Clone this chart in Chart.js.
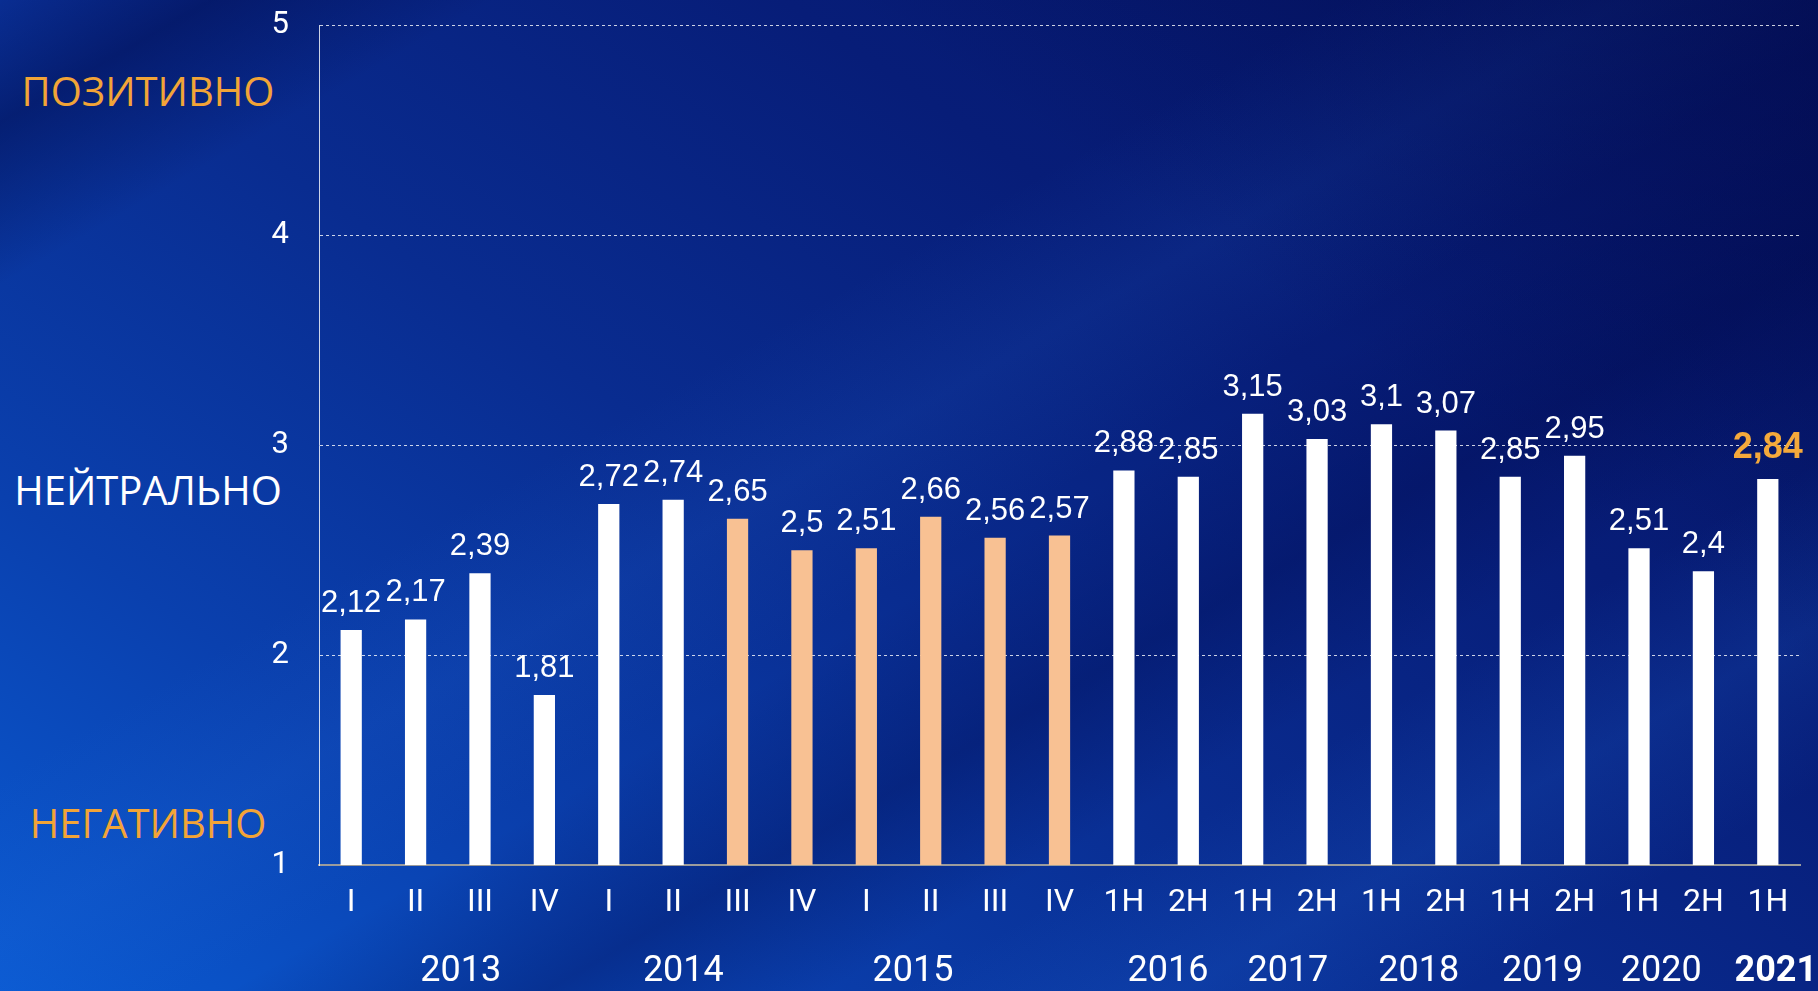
<!DOCTYPE html>
<html>
<head>
<meta charset="utf-8">
<script src="https://cdn.jsdelivr.net/npm/chart.js@4.4.1/dist/chart.umd.min.js"></script>
<style>
  html, body { margin: 0; padding: 0; }
  body {
    width: 1818px; height: 991px; overflow: hidden; position: relative;
    background:
      linear-gradient(215deg, rgba(2,8,70,0.55) 0%, rgba(2,8,70,0) 30%),
      linear-gradient(150deg, rgba(0,8,70,0) 0%, rgba(0,8,70,0.45) 6%, rgba(0,8,70,0) 14%, rgba(0,8,70,0) 100%),
      linear-gradient(150deg, rgba(0,0,0,0) 38%, rgba(40,110,220,0.12) 46%, rgba(0,0,0,0) 54%),
      linear-gradient(150deg, rgba(0,0,0,0) 55%, rgba(0,10,80,0.35) 64%, rgba(0,0,0,0) 72%),
      linear-gradient(150deg, rgba(0,0,0,0) 74%, rgba(30,100,210,0.2) 82%, rgba(0,0,0,0) 90%),
      linear-gradient(35deg, #0a5ad2 0%, #0a40ae 22%, #092c90 45%, #071d78 68%, #051466 100%);
  }
  #wrap { position: absolute; left: 0; top: -23px; width: 1818px; height: 1014px; }
  .side { position: absolute; width: 296px; text-align: center; font-family: "Open Sans", sans-serif; font-size: 40px; line-height: 1; }
</style>
</head>
<body>
<div class="side" style="top:71px; color:#f2a437;">ПОЗИТИВНО</div>
<div class="side" style="top:470px; color:#ffffff;">НЕЙТРАЛЬНО</div>
<div class="side" style="top:803px; color:#f2a437;">НЕГАТИВНО</div>
<div id="wrap"><canvas id="myChart" width="1818" height="1014"></canvas></div>
<script>
// period labels under each bar
const periods = ['I', 'II', 'III', 'IV', 'I', 'II', 'III', 'IV', 'I', 'II', 'III', 'IV',
                 '1H', '2H', '1H', '2H', '1H', '2H', '1H', '2H', '1H', '2H', '1H'];
// index values
const values = [2.12, 2.17, 2.39, 1.81, 2.72, 2.74, 2.65, 2.5, 2.51, 2.66, 2.56, 2.57,
                2.88, 2.85, 3.15, 3.03, 3.1, 3.07, 2.85, 2.95, 2.51, 2.4, 2.84];
// bars drawn in the second (peach) colour
const highlighted = [false, false, false, false, false, false, true, true, true, true, true, true,
                     false, false, false, false, false, false, false, false, false, false, false];
// years and the bar indexes they span
const years = ['2013', '2014', '2015', '2016', '2017', '2018', '2019', '2020', '2021'];
const yearFrom = [0, 4, 8, 12, 14, 16, 18, 20, 22];
const yearTo = [3, 7, 11, 13, 15, 17, 19, 21, 22];
const yTicks = [1, 2, 3, 4, 5];

const last = values.length - 1;
const fmt = v => String(v).replace('.', ',');

// value labels above the bars
const valueLabels = {
    id: 'valueLabels',
    afterDatasetsDraw(chart) {
        const ctx = chart.ctx;
        const meta = chart.getDatasetMeta(0);
        ctx.save();
        ctx.textAlign = 'center';
        ctx.textBaseline = 'alphabetic';
        meta.data.forEach((bar, i) => {
            if (i === last) {
                ctx.font = 'bold 36px "Liberation Sans"';
                ctx.fillStyle = '#f5a93b';
                ctx.fillText(fmt(values[i]), bar.x, bar.y - 21);
            } else {
                ctx.font = '31px "Liberation Sans"';
                ctx.fillStyle = '#ffffff';
                ctx.fillText(fmt(values[i]), bar.x, bar.y - 18);
            }
        });
        ctx.restore();
    }
};

// year captions under the period labels
const yearNudge = [13, -22, -50, 12, 3, 5, 0, -10, 8];
const yearLabels = {
    id: 'yearLabels',
    afterDraw(chart) {
        const ctx = chart.ctx;
        const x = chart.scales.x;
        ctx.save();
        ctx.textAlign = 'center';
        ctx.textBaseline = 'middle';
        ctx.fillStyle = '#ffffff';
        years.forEach((y, i) => {
            const cx = (x.getPixelForValue(yearFrom[i]) + x.getPixelForValue(yearTo[i])) / 2 + yearNudge[i];
            ctx.font = (i === years.length - 1 ? 'bold ' : '') + '36px Roboto';
            ctx.fillText(y, cx, x.top + 107);
        });
        ctx.restore();
    }
};

const ctx = document.getElementById('myChart');

new Chart(ctx, {
    type: 'bar',
    data: {
        labels: periods,
        datasets: [{
            data: values,
            backgroundColor: highlighted.map(h => h ? '#f8c193' : '#ffffff'),
            borderWidth: 0,
            barPercentage: 0.33,
            categoryPercentage: 1
        }]
    },
    options: {
        responsive: false,
        animation: false,
        events: [],
        layout: { padding: { top: 0, right: 18, bottom: 0, left: 0 } },
        plugins: {
            legend: { display: false },
            tooltip: { enabled: false }
        },
        scales: {
            x: {
                afterFit(scale) { scale.height = 126; },
                grid: { display: false, drawTicks: false },
                border: { display: true, color: '#9c9c9c', width: 2 },
                ticks: {
                    color: '#ffffff',
                    font: { family: 'Roboto', size: 32 },
                    padding: 19,
                    maxRotation: 0,
                    autoSkip: false
                }
            },
            y: {
                min: 1,
                max: 5,
                afterFit(scale) { scale.width = 319; },
                afterBuildTicks(scale) { scale.ticks = yTicks.map(v => ({ value: v })); },
                grid: {
                    drawTicks: false,
                    color: c => c.tick.value === 1 ? 'rgba(0,0,0,0)' : 'rgba(255,255,255,0.8)',
                    lineWidth: 1
                },
                border: { display: true, color: 'rgba(255,255,255,0.8)', width: 1, dash: [3, 3] },
                ticks: {
                    color: '#ffffff',
                    font: { family: 'Roboto', size: 31 },
                    padding: 30
                }
            }
        }
    },
    plugins: [valueLabels, yearLabels]
});
</script>
</body>
</html>
